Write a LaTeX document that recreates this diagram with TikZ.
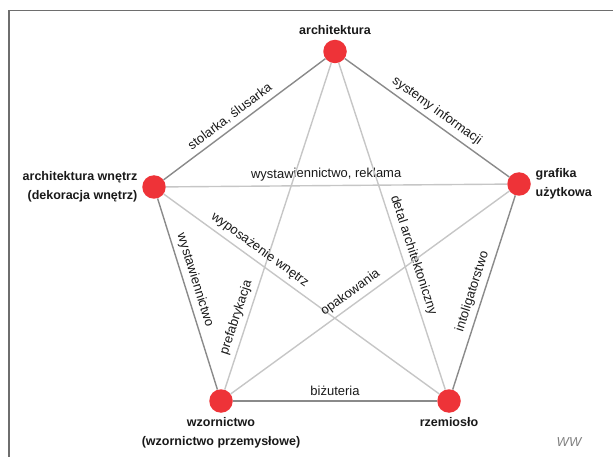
\documentclass[tikz,border=0pt]{standalone}
\usepackage{fontspec}
\setmainfont{Liberation Sans}
\usepackage{tikz}
\usetikzlibrary{arrows,positioning}
\definecolor{dotred}{HTML}{EE3338}
\definecolor{outergray}{HTML}{8A8A8A}
\definecolor{innergray}{HTML}{C6C6C6}
\definecolor{framegray}{HTML}{6E6E6E}

\begin{document}
\begin{tikzpicture}
[ x=1pt, y=-1pt, node distance=3pt and 3pt,
		field/.style={circle,fill=dotred,minimum size=23.5pt,inner sep=0pt},
		fieldname/.style={font={\fontsize{12.5}{18.5}\selectfont\bfseries},text=black!90,inner sep=1.5pt},
		link/.style={line width=1.4pt,color=innergray},
		mainlink/.style={line width=1.4pt,color=outergray},
		linkname/.style={font={\fontsize{13}{15}\selectfont},text=black!90,sloped,above,inner sep=4.5pt}]

	\useasboundingbox (0,0) rectangle (613,457);
	\draw[framegray,line width=1.3pt] (9,457) -- (9,10.5) -- (613,10.5);

	\node[field] (architektura) at (335,51.5) {};
	\node[field] (wnetrza) at (154,187) {};
	\node[field] (grafika) at (519,184) {};
	\node[field] (wzornictwo) at (221,401) {};
	\node[field] (rzemioslo) at (449,401) {};

	\node[fieldname] (architektura name) [above=of architektura] {architektura};
	\node[fieldname,align=right] (wnetrza name) [left=of wnetrza] {architektura wnętrz\\(dekoracja wnętrz)};
	\node[fieldname,align=left] (grafika name) [right=of grafika] {grafika\\użytkowa};
	\node[fieldname,align=center] (wzornictwo name) [below=of wzornictwo] {wzornictwo\\(wzornictwo przemysłowe)};
	\node[fieldname] (rzemioslo name) [below=of rzemioslo] {rzemiosło};

	\draw[link] (wnetrza) -- node[linkname,pos=0.47] {wystawiennictwo, reklama} (grafika);
	\draw[link] (wzornictwo) -- node[linkname,pos=0.21] {prefabrykacja} (architektura);
	\draw[link] (architektura) -- node[linkname,pos=0.6] {detal architektoniczny} (rzemioslo);
	\draw[link] (wnetrza) -- node[linkname,pos=0.325] {wyposażenie wnętrz} (rzemioslo);
	\draw[link] (wzornictwo) -- node[linkname,pos=0.454] {opakowania} (grafika);

	\draw[mainlink] (wnetrza) -- node[linkname,pos=0.45] {stolarka, ślusarka} (architektura);
	\draw[mainlink] (architektura) -- node[linkname,pos=0.52] {systemy informacji} (grafika);
	\draw[mainlink] (rzemioslo) -- node[linkname,pos=0.487] {intoligatorstwo} (grafika);
	\draw[mainlink] (wzornictwo) -- node[linkname,pos=0.5] {biżuteria} (rzemioslo);
	\draw[mainlink] (wnetrza) -- node[linkname,pos=0.445] {wystawiennictwo} (wzornictwo);

	\node[text=black!50,font={\fontsize{13}{15}\selectfont\itshape}] (signature) at (569,442) {WW};
\end{tikzpicture}
\end{document}
